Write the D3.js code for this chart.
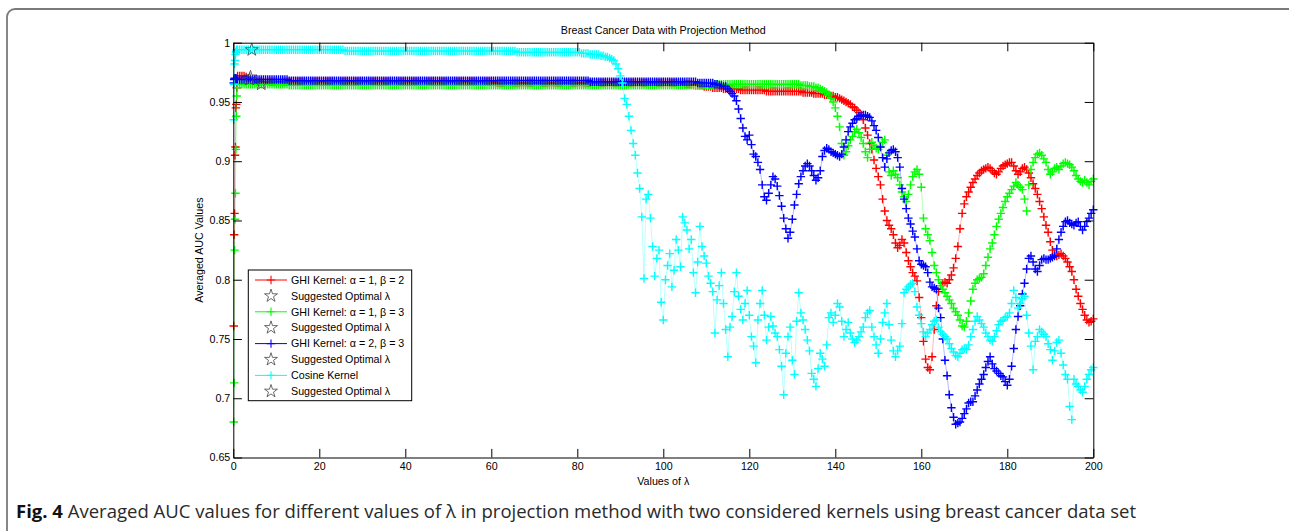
<!DOCTYPE html>
<html><head><meta charset="utf-8">
<script src="https://cdn.jsdelivr.net/npm/d3@7"></script>
<style>body{margin:0;background:#fff}svg{display:block}</style>
</head><body>
<svg id="c" width="1289" height="531"></svg>
<script>
// ---------- data ----------
const xTicks = [0, 20, 40, 60, 80, 100, 120, 140, 160, 180, 200];
const xTickLabels = ["0", "20", "40", "60", "80", "100", "120", "140", "160", "180", "200"];
const yTicks = [0.65, 0.7, 0.75, 0.8, 0.85, 0.9, 0.95, 1];
const yTickLabels = ["0.65", "0.7", "0.75", "0.8", "0.85", "0.9", "0.95", "1"];

const seriesNames = ["GHI Kernel: \u03b1 = 1, \u03b2 = 2", "GHI Kernel: \u03b1 = 1, \u03b2 = 3", "GHI Kernel: \u03b1 = 2, \u03b2 = 3", "Cosine Kernel"];
const starLabel = "Suggested Optimal \u03bb";
const seriesColors = ["#ff0000", "#00ff00", "#0000ff", "#00ffff"];

// first small lambdas (ramp) and then regular grid lambda = 1, 1.5, ..., 200
const headLambda = [0.1, 0.2, 0.3, 0.4, 0.5, 0.6, 0.7, 0.8, 0.9];
const gridStart = 1, gridStep = 0.5;

const aucGHI12Head = [0.761, 0.838, 0.856, 0.905, 0.912, 0.945, 0.948, 0.962, 0.970];
const aucGHI12 = [
0.972,0.972,0.972,0.972,0.971,0.970,0.969,0.968,0.968,0.967,0.967,0.967,0.967,0.967,0.967,0.967,0.967,0.967,0.967,0.967,
0.967,0.967,0.967,0.967,0.967,0.967,0.967,0.967,0.967,0.967,0.967,0.967,0.967,0.967,0.967,0.967,0.967,0.967,0.967,0.967,
0.967,0.967,0.967,0.967,0.967,0.967,0.967,0.967,0.967,0.967,0.967,0.967,0.967,0.967,0.967,0.967,0.967,0.967,0.967,0.967,
0.967,0.967,0.967,0.967,0.967,0.967,0.967,0.967,0.967,0.967,0.967,0.967,0.967,0.967,0.967,0.967,0.967,0.967,0.967,0.967,
0.967,0.967,0.967,0.967,0.967,0.967,0.967,0.967,0.967,0.967,0.967,0.967,0.967,0.967,0.967,0.967,0.967,0.967,0.967,0.967,
0.967,0.967,0.967,0.967,0.967,0.967,0.967,0.967,0.967,0.967,0.967,0.967,0.967,0.967,0.967,0.967,0.967,0.967,0.967,0.967,
0.966,0.966,0.966,0.966,0.966,0.966,0.966,0.966,0.966,0.966,0.966,0.966,0.966,0.966,0.966,0.966,0.966,0.966,0.966,0.966,
0.966,0.966,0.966,0.966,0.966,0.966,0.966,0.966,0.966,0.966,0.966,0.966,0.966,0.966,0.966,0.966,0.966,0.966,0.966,0.966,
0.966,0.966,0.966,0.966,0.966,0.966,0.966,0.966,0.966,0.966,0.966,0.966,0.966,0.966,0.966,0.966,0.966,0.966,0.966,0.966,
0.966,0.966,0.966,0.966,0.966,0.966,0.966,0.966,0.966,0.966,0.966,0.966,0.966,0.966,0.966,0.966,0.966,0.966,0.966,0.966,
0.966,0.966,0.966,0.966,0.966,0.966,0.966,0.966,0.965,0.965,0.965,0.965,0.965,0.964,0.964,0.964,0.964,0.963,0.963,0.963,
0.963,0.962,0.962,0.962,0.962,0.962,0.961,0.961,0.961,0.961,0.961,0.961,0.961,0.961,0.960,0.960,0.960,0.960,0.960,0.960,
0.960,0.960,0.960,0.960,0.960,0.960,0.959,0.959,0.959,0.959,0.959,0.959,0.959,0.959,0.959,0.959,0.959,0.959,0.959,0.959,
0.959,0.959,0.959,0.958,0.958,0.958,0.958,0.958,0.957,0.957,0.957,0.957,0.957,0.956,0.956,0.956,0.955,0.955,0.954,0.954,
0.953,0.952,0.951,0.950,0.949,0.948,0.946,0.945,0.943,0.941,0.938,0.935,0.928,0.922,0.915,0.910,0.901,0.894,0.887,0.880,
0.868,0.858,0.850,0.846,0.843,0.838,0.831,0.827,0.829,0.834,0.831,0.823,0.816,0.811,0.806,0.803,0.799,0.785,0.768,0.748,
0.733,0.726,0.724,0.735,0.758,0.778,0.790,0.795,0.797,0.798,0.797,0.800,0.804,0.810,0.818,0.828,0.843,0.856,0.864,0.870,
0.874,0.878,0.882,0.885,0.888,0.890,0.892,0.893,0.894,0.895,0.894,0.892,0.890,0.889,0.891,0.894,0.896,0.897,0.898,0.899,
0.899,0.896,0.892,0.889,0.891,0.894,0.895,0.893,0.890,0.886,0.881,0.877,0.872,0.866,0.860,0.853,0.846,0.840,0.832,0.825,
0.821,0.820,0.821,0.822,0.820,0.818,0.815,0.811,0.807,0.800,0.792,0.786,0.780,0.775,0.770,0.766,0.764,0.765,0.767];

const aucGHI13Head = [0.680, 0.713, 0.825, 0.851, 0.873, 0.910, 0.938, 0.955, 0.962];
const aucGHI13 = [
0.965,0.965,0.965,0.965,0.965,0.965,0.965,0.965,0.965,0.965,0.965,0.965,0.965,0.965,0.965,0.965,0.965,0.965,0.965,0.965,
0.965,0.965,0.965,0.965,0.964,0.964,0.964,0.964,0.964,0.964,0.964,0.964,0.964,0.964,0.964,0.964,0.964,0.964,0.964,0.964,
0.964,0.964,0.964,0.964,0.964,0.964,0.964,0.964,0.964,0.964,0.964,0.964,0.964,0.964,0.964,0.964,0.964,0.964,0.964,0.964,
0.964,0.964,0.964,0.964,0.964,0.964,0.964,0.964,0.964,0.964,0.964,0.964,0.964,0.964,0.964,0.964,0.964,0.964,0.964,0.964,
0.964,0.964,0.964,0.964,0.964,0.964,0.964,0.964,0.964,0.964,0.964,0.964,0.964,0.964,0.964,0.964,0.964,0.964,0.964,0.964,
0.964,0.964,0.964,0.964,0.964,0.964,0.964,0.964,0.964,0.964,0.964,0.964,0.964,0.964,0.964,0.964,0.964,0.964,0.964,0.964,
0.964,0.964,0.964,0.964,0.964,0.964,0.964,0.964,0.964,0.964,0.964,0.964,0.964,0.964,0.964,0.964,0.964,0.964,0.964,0.964,
0.964,0.964,0.964,0.964,0.964,0.964,0.964,0.964,0.964,0.964,0.964,0.964,0.964,0.964,0.964,0.964,0.964,0.964,0.964,0.964,
0.964,0.964,0.964,0.964,0.964,0.964,0.964,0.964,0.964,0.964,0.964,0.964,0.964,0.964,0.964,0.964,0.964,0.964,0.964,0.964,
0.964,0.964,0.964,0.964,0.964,0.964,0.964,0.964,0.964,0.964,0.964,0.964,0.964,0.964,0.964,0.964,0.964,0.964,0.964,0.964,
0.964,0.964,0.964,0.964,0.964,0.964,0.964,0.964,0.964,0.964,0.964,0.964,0.964,0.964,0.964,0.964,0.964,0.964,0.964,0.964,
0.964,0.964,0.965,0.965,0.965,0.965,0.965,0.965,0.965,0.965,0.965,0.965,0.965,0.965,0.965,0.965,0.965,0.965,0.965,0.965,
0.965,0.965,0.965,0.965,0.965,0.965,0.965,0.965,0.965,0.965,0.965,0.965,0.965,0.965,0.965,0.965,0.965,0.965,0.965,0.965,
0.965,0.965,0.964,0.964,0.964,0.964,0.963,0.963,0.963,0.962,0.962,0.961,0.960,0.959,0.958,0.956,0.953,0.950,0.945,0.938,
0.929,0.915,0.905,0.908,0.913,0.918,0.921,0.925,0.927,0.924,0.920,0.915,0.908,0.903,0.910,0.916,0.913,0.911,0.910,0.912,
0.916,0.918,0.905,0.891,0.888,0.892,0.889,0.886,0.880,0.874,0.870,0.866,0.872,0.880,0.887,0.891,0.893,0.889,0.878,0.852,
0.843,0.838,0.833,0.823,0.812,0.806,0.800,0.795,0.792,0.789,0.786,0.783,0.780,0.776,0.773,0.770,0.766,0.761,0.760,0.765,
0.772,0.782,0.792,0.797,0.800,0.801,0.802,0.805,0.812,0.819,0.826,0.831,0.838,0.845,0.851,0.856,0.861,0.866,0.870,0.873,
0.876,0.879,0.882,0.880,0.878,0.876,0.868,0.858,0.880,0.893,0.899,0.903,0.906,0.907,0.905,0.902,0.899,0.893,0.889,0.891,
0.894,0.895,0.893,0.896,0.898,0.899,0.898,0.897,0.895,0.892,0.888,0.885,0.883,0.882,0.884,0.882,0.880,0.883,0.885];

const aucGHI23Head = [0.966, 0.969, 0.970, 0.969, 0.969, 0.970, 0.969, 0.969, 0.969];
const aucGHI23 = [
0.969,0.969,0.969,0.969,0.969,0.969,0.969,0.969,0.969,0.969,0.969,0.969,0.969,0.969,0.969,0.969,0.969,0.969,0.969,0.969,
0.969,0.969,0.969,0.969,0.968,0.968,0.968,0.968,0.968,0.968,0.968,0.968,0.968,0.968,0.968,0.968,0.968,0.968,0.968,0.968,
0.968,0.968,0.968,0.968,0.968,0.968,0.968,0.968,0.968,0.968,0.968,0.968,0.968,0.968,0.968,0.968,0.968,0.968,0.968,0.968,
0.968,0.968,0.968,0.968,0.968,0.968,0.968,0.968,0.968,0.968,0.968,0.968,0.968,0.968,0.968,0.968,0.968,0.968,0.968,0.968,
0.968,0.968,0.968,0.968,0.968,0.968,0.968,0.968,0.968,0.968,0.968,0.968,0.968,0.968,0.968,0.968,0.968,0.968,0.968,0.968,
0.968,0.968,0.968,0.968,0.968,0.968,0.968,0.968,0.968,0.968,0.968,0.968,0.968,0.968,0.968,0.968,0.968,0.968,0.968,0.968,
0.968,0.968,0.968,0.968,0.968,0.968,0.968,0.968,0.968,0.968,0.968,0.968,0.968,0.968,0.968,0.968,0.968,0.968,0.968,0.968,
0.968,0.968,0.968,0.968,0.968,0.968,0.968,0.968,0.968,0.968,0.968,0.968,0.968,0.968,0.968,0.968,0.968,0.968,0.968,0.968,
0.968,0.968,0.968,0.968,0.967,0.967,0.967,0.967,0.967,0.967,0.967,0.967,0.967,0.967,0.967,0.967,0.967,0.967,0.967,0.967,
0.967,0.967,0.967,0.967,0.967,0.967,0.967,0.967,0.967,0.967,0.967,0.967,0.967,0.967,0.967,0.967,0.967,0.967,0.967,0.967,
0.967,0.967,0.967,0.967,0.967,0.967,0.967,0.967,0.967,0.967,0.967,0.967,0.967,0.967,0.966,0.966,0.966,0.966,0.966,0.966,
0.966,0.966,0.965,0.965,0.964,0.964,0.963,0.963,0.961,0.959,0.957,0.955,0.951,0.944,0.936,0.928,0.921,0.918,0.922,0.914,
0.906,0.904,0.899,0.893,0.880,0.870,0.867,0.873,0.880,0.887,0.885,0.879,0.871,0.862,0.852,0.843,0.835,0.840,0.851,0.863,
0.872,0.881,0.887,0.892,0.896,0.898,0.896,0.892,0.888,0.884,0.886,0.892,0.904,0.909,0.911,0.910,0.908,0.907,0.906,0.905,
0.904,0.906,0.912,0.918,0.925,0.929,0.932,0.935,0.936,0.938,0.939,0.939,0.939,0.938,0.937,0.934,0.930,0.926,0.920,0.912,
0.903,0.895,0.902,0.907,0.909,0.910,0.908,0.903,0.895,0.877,0.868,0.860,0.852,0.847,0.841,0.836,0.826,0.816,0.813,0.812,
0.811,0.806,0.798,0.794,0.793,0.792,0.776,0.768,0.750,0.732,0.719,0.703,0.692,0.684,0.678,0.679,0.680,0.683,0.687,0.691,
0.696,0.697,0.697,0.702,0.707,0.712,0.716,0.720,0.726,0.731,0.735,0.729,0.725,0.723,0.721,0.719,0.718,0.714,0.711,0.716,
0.727,0.742,0.758,0.769,0.778,0.788,0.797,0.809,0.818,0.820,0.815,0.809,0.807,0.812,0.817,0.818,0.817,0.817,0.818,0.819,
0.820,0.826,0.834,0.840,0.845,0.849,0.850,0.848,0.847,0.846,0.848,0.849,0.845,0.842,0.845,0.849,0.852,0.856,0.859];

const aucCosineHead = [0.935, 0.965, 0.982, 0.985, 0.990, 0.992, 0.993, 0.994, 0.994];
const aucCosine = [
0.994,0.994,0.994,0.994,0.994,0.994,0.994,0.994,0.994,0.994,0.994,0.994,0.994,0.994,0.994,0.994,0.994,0.994,0.994,0.994,
0.994,0.994,0.994,0.994,0.994,0.994,0.994,0.994,0.994,0.994,0.994,0.994,0.994,0.994,0.994,0.994,0.994,0.994,0.994,0.994,
0.994,0.994,0.994,0.994,0.994,0.994,0.994,0.994,0.994,0.994,0.993,0.993,0.993,0.993,0.993,0.993,0.993,0.993,0.993,0.993,
0.993,0.993,0.993,0.993,0.993,0.993,0.993,0.993,0.993,0.993,0.993,0.993,0.993,0.993,0.993,0.993,0.993,0.993,0.993,0.993,
0.993,0.993,0.993,0.993,0.993,0.993,0.993,0.993,0.993,0.993,0.993,0.993,0.993,0.993,0.993,0.993,0.993,0.993,0.993,0.993,
0.993,0.993,0.993,0.993,0.993,0.993,0.993,0.993,0.993,0.993,0.993,0.993,0.993,0.993,0.993,0.993,0.993,0.993,0.993,0.993,
0.993,0.993,0.993,0.993,0.993,0.993,0.993,0.993,0.993,0.993,0.992,0.992,0.992,0.992,0.992,0.992,0.992,0.992,0.992,0.992,
0.992,0.992,0.992,0.992,0.992,0.992,0.992,0.992,0.992,0.992,0.992,0.992,0.992,0.992,0.992,0.992,0.992,0.992,0.992,0.992,
0.991,0.991,0.991,0.991,0.990,0.990,0.990,0.990,0.990,0.989,0.989,0.988,0.988,0.987,0.986,0.985,0.982,0.978,0.972,0.966,
0.953,0.948,0.938,0.926,0.915,0.905,0.890,0.877,0.853,0.801,0.868,0.872,0.852,0.828,0.803,0.818,0.825,0.781,0.766,0.800,
0.812,0.822,0.794,0.808,0.834,0.825,0.811,0.853,0.848,0.842,0.826,0.834,0.806,0.789,0.815,0.845,0.828,0.820,0.814,0.803,
0.797,0.790,0.755,0.783,0.795,0.806,0.780,0.758,0.735,0.760,0.769,0.790,0.806,0.786,0.775,0.766,0.780,0.791,0.770,0.752,
0.744,0.730,0.766,0.780,0.791,0.770,0.749,0.760,0.769,0.761,0.755,0.752,0.741,0.727,0.703,0.738,0.752,0.760,0.732,0.720,
0.765,0.789,0.772,0.766,0.758,0.749,0.740,0.721,0.716,0.710,0.725,0.738,0.733,0.727,0.745,0.768,0.772,0.764,0.770,0.780,
0.777,0.765,0.752,0.758,0.764,0.755,0.750,0.747,0.749,0.752,0.756,0.760,0.768,0.772,0.774,0.760,0.752,0.745,0.738,0.750,
0.764,0.772,0.780,0.762,0.749,0.740,0.735,0.740,0.744,0.763,0.789,0.792,0.794,0.796,0.797,0.790,0.777,0.770,0.763,0.756,
0.752,0.755,0.758,0.762,0.765,0.766,0.760,0.756,0.754,0.752,0.750,0.746,0.742,0.739,0.736,0.735,0.738,0.741,0.742,0.741,
0.745,0.752,0.758,0.765,0.769,0.766,0.763,0.760,0.755,0.752,0.749,0.748,0.752,0.757,0.762,0.765,0.766,0.768,0.769,0.772,
0.780,0.791,0.785,0.776,0.780,0.784,0.786,0.770,0.755,0.744,0.724,0.748,0.752,0.758,0.756,0.754,0.752,0.746,0.741,0.732,
0.740,0.747,0.749,0.738,0.728,0.720,0.716,0.693,0.682,0.716,0.712,0.710,0.707,0.705,0.710,0.716,0.720,0.724,0.726];

const optimalLambda = [4.0, 6.5, 3.8, 4.3];
const optimalAUC = [0.971, 0.965, 0.969, 0.994];

const titleText = "Breast Cancer Data with Projection Method";
const xLabelText = "Values of \u03bb";
const yLabelText = "Averaged AUC Values";
const captionBold = "Fig. 4";
const captionText = " Averaged AUC values for different values of \u03bb in projection method with two considered kernels using breast cancer data set";

// ---------- drawing ----------
const svg = d3.select("#c");
const FONT = "'Liberation Sans', Arial, Helvetica, sans-serif";
const FS = 10.7;

svg.append("rect").attr("width", 1289).attr("height", 531).attr("fill", "#fff");
svg.append("rect").attr("x", 7).attr("y", 9).attr("width", 1300).attr("height", 620).attr("rx", 8)
  .attr("fill", "none").attr("stroke", "#7a7a7a").attr("stroke-width", 1.8);

const x = d3.scaleLinear().domain([0, 200]).range([233.3, 1093.3]);
const y = d3.scaleLinear().domain([0.65, 1]).range([457.5, 42.7]);
const tickLen = 8.6;

const heads = [aucGHI12Head, aucGHI13Head, aucGHI23Head, aucCosineHead];
const grids = [aucGHI12, aucGHI13, aucGHI23, aucCosine];
function build(head, grid) {
  return headLambda.map((l, i) => [l, head[i]])
    .concat(grid.map((v, i) => [gridStart + i * gridStep, v]));
}

const line = d3.line().x(d => x(d[0])).y(d => y(d[1]));
const star = d3.symbol(d3.symbolStar, 52);
const arm = 4.2;
function plusPath(px, py, a) { return `M${px - a},${py}h${2 * a}M${px},${py - a}v${2 * a}`; }

const plot = svg.append("g");
seriesNames.forEach((name, s) => {
  const pts = build(heads[s], grids[s]);
  plot.append("path").datum(pts).attr("d", line)
    .attr("fill", "none").attr("stroke", seriesColors[s]).attr("stroke-width", 0.4).attr("stroke-opacity", 0.7);
  plot.append("path")
    .attr("d", pts.map(d => plusPath(x(d[0]), y(d[1]), arm)).join(""))
    .attr("fill", "none").attr("stroke", seriesColors[s]).attr("stroke-width", 1.4);
  plot.append("path").attr("d", star)
    .attr("transform", `translate(${x(optimalLambda[s])},${y(optimalAUC[s])})`)
    .attr("fill", "none").attr("stroke", "#444").attr("stroke-width", 0.8);
});

// axes (MATLAB-style box with inward ticks)
function styleAxis(g) {
  g.select(".domain").attr("stroke", "#000").attr("stroke-width", 1);
  g.selectAll(".tick line").attr("stroke", "#000").attr("stroke-width", 1);
  g.selectAll("text").attr("font-family", FONT).attr("font-size", FS).attr("fill", "#000");
}
svg.append("g").attr("transform", `translate(0,${y(0.65)})`)
  .call(d3.axisBottom(x).tickValues(xTicks).tickFormat((d, i) => xTickLabels[i]).tickSizeInner(-tickLen).tickSizeOuter(0).tickPadding(5))
  .call(styleAxis);
svg.append("g").attr("transform", `translate(0,${y(1)})`)
  .call(d3.axisTop(x).tickValues(xTicks).tickFormat("").tickSizeInner(-tickLen).tickSizeOuter(0))
  .call(styleAxis);
svg.append("g").attr("transform", `translate(${x(0)},0)`)
  .call(d3.axisLeft(y).tickValues(yTicks).tickFormat((d, i) => yTickLabels[i]).tickSizeInner(-tickLen).tickSizeOuter(0).tickPadding(3))
  .call(styleAxis);
svg.append("g").attr("transform", `translate(${x(200)},0)`)
  .call(d3.axisRight(y).tickValues(yTicks).tickFormat("").tickSizeInner(-tickLen).tickSizeOuter(0))
  .call(styleAxis);

// title and labels
svg.append("text").attr("x", (x(0) + x(200)) / 2).attr("y", 34).attr("text-anchor", "middle")
  .attr("font-family", FONT).attr("font-size", FS).text(titleText);
svg.append("text").attr("x", (x(0) + x(200)) / 2).attr("y", 485).attr("text-anchor", "middle")
  .attr("font-family", FONT).attr("font-size", FS).text(xLabelText);
svg.append("text").attr("transform", `translate(203,${(y(0.65) + y(1)) / 2}) rotate(-90)`).attr("text-anchor", "middle")
  .attr("font-family", FONT).attr("font-size", FS).text(yLabelText);

// legend
const lg = svg.append("g");
lg.append("rect").attr("x", 248.3).attr("y", 270).attr("width", 163.4).attr("height", 130.7)
  .attr("fill", "#fff").attr("stroke", "#000").attr("stroke-width", 1);
const legendLabels = [];
seriesNames.forEach((n, s) => { legendLabels.push({ t: n, s, kind: "line" }); legendLabels.push({ t: starLabel, s, kind: "star" }); });
legendLabels.forEach((e, i) => {
  const cy = 280 + i * 15.9;
  if (e.kind === "line") {
    lg.append("line").attr("x1", 255).attr("x2", 287).attr("y1", cy).attr("y2", cy)
      .attr("stroke", seriesColors[e.s]).attr("stroke-width", 1);
    lg.append("path").attr("d", plusPath(271, cy, arm)).attr("stroke", seriesColors[e.s]).attr("stroke-width", 1.1);
  } else {
    lg.append("path").attr("d", star).attr("transform", `translate(271,${cy})`)
      .attr("fill", "none").attr("stroke", "#444").attr("stroke-width", 0.8);
  }
  lg.append("text").attr("x", 291).attr("y", cy).attr("dy", "0.35em")
    .attr("font-family", FONT).attr("font-size", FS).text(e.t);
});

// caption
const cap = svg.append("text").attr("x", 16).attr("y", 518)
  .attr("font-family", "'Open Sans', 'Noto Sans', sans-serif").attr("font-size", 16).attr("fill", "#2a2a2a");
cap.append("tspan").attr("font-weight", "bold").attr("fill", "#111").text(captionBold);
cap.append("tspan").text(captionText);
const w = cap.node().getComputedTextLength();
cap.attr("font-size", 16 * 1121 / w);
</script>
</body></html>
